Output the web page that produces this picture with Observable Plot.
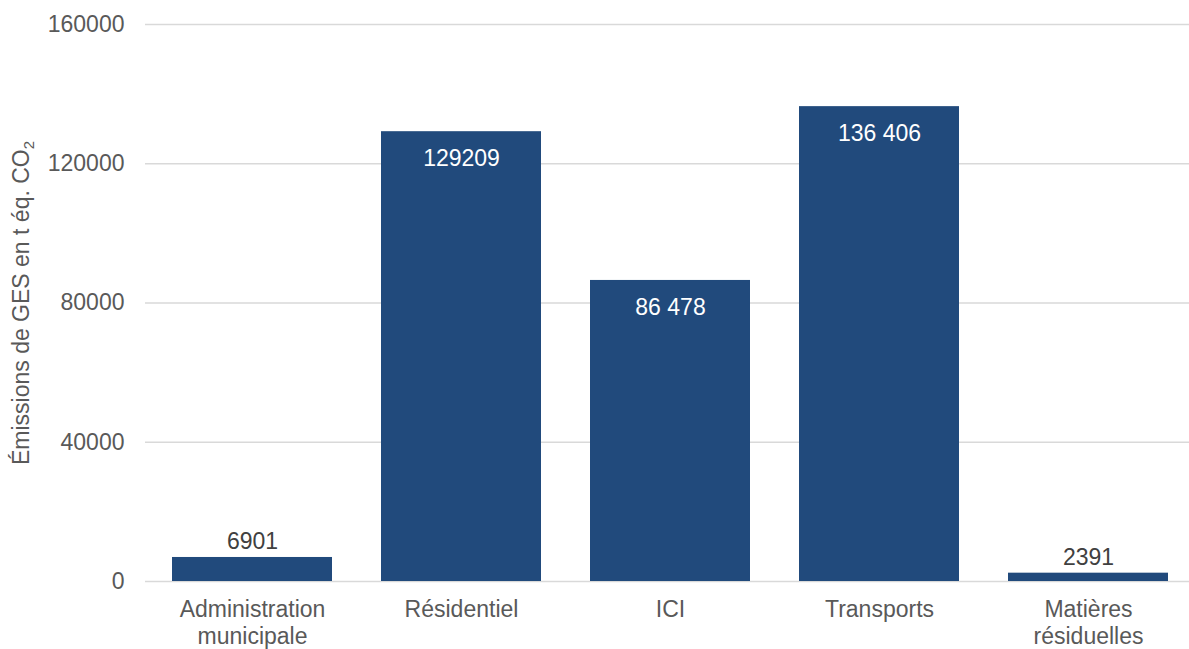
<!DOCTYPE html>
<html>
<head>
<meta charset="utf-8">
<script src="https://cdn.jsdelivr.net/npm/d3@7"></script>
<script src="https://cdn.jsdelivr.net/npm/@observablehq/plot@0.6"></script>
<style>
  html, body { margin: 0; padding: 0; overflow: hidden; background: #fff; }
  #chart { width: 1189px; height: 649px; overflow: hidden; }
  #chart svg { max-width: none !important; }
</style>
</head>
<body>
<div id="chart"></div>
<script>
const categories = ["Administration\nmunicipale", "Résidentiel", "ICI", "Transports", "Matières\nrésiduelles"];
const values = [6901, 129209, 86478, 136406, 2391];
const valueLabels = ["6901", "129209", "86 478", "136 406", "2391"];
const yTicks = [0, 40000, 80000, 120000, 160000];
const yTitle = "Émissions de GES en t éq. CO";
const yTitleSub = "2";

const data = categories.map((c, i) => ({cat: c, value: values[i], label: valueLabels[i]}));
const font = "'Liberation Sans', Arial, sans-serif";

const chart = Plot.plot({
  width: 1195,
  height: 649,
  marginLeft: 145,
  marginRight: 0,
  marginTop: 24,
  marginBottom: 68,
  style: {fontFamily: font, fontSize: "23px", background: "#fff", maxWidth: "none"},
  x: {domain: categories, paddingInner: 0.233, paddingOuter: 0.117},
  y: {domain: [0, 160000]},
  marks: [
    Plot.gridY(yTicks, {stroke: "#D9D9D9", strokeOpacity: 1, strokeWidth: 1.5}),
    Plot.barY(data, {x: "cat", y: "value", fill: "#214A7C"}),
    Plot.text(data.filter(d => d.value > 20000), {x: "cat", y: "value", text: "label", fill: "#ffffff", lineAnchor: "top", dy: 18, fontSize: 23}),
    Plot.text(data.filter(d => d.value <= 20000), {x: "cat", y: "value", text: "label", fill: "#404040", lineAnchor: "bottom", dy: -8, fontSize: 23}),
    Plot.axisY(yTicks, {tickSize: 0, tickPadding: 21, tickFormat: d => String(d), fill: "#595959", fontSize: 23,
      label: yTitle, labelAnchor: "center", labelArrow: "none", labelOffset: 133}),
    Plot.axisX({tickSize: 0, tickPadding: 17, fill: "#595959", fontSize: 23, lineHeight: 1.15, label: null})
  ]
});
document.getElementById("chart").appendChild(chart);

// add subscript to y-axis title
d3.select(chart).selectAll("text").each(function() {
  if (this.textContent === yTitle) {
    const t = d3.select(this);
    t.append("tspan").attr("font-size", "15px").attr("dy", "0.35em").text(yTitleSub);
  }
});
</script>
</body>
</html>
